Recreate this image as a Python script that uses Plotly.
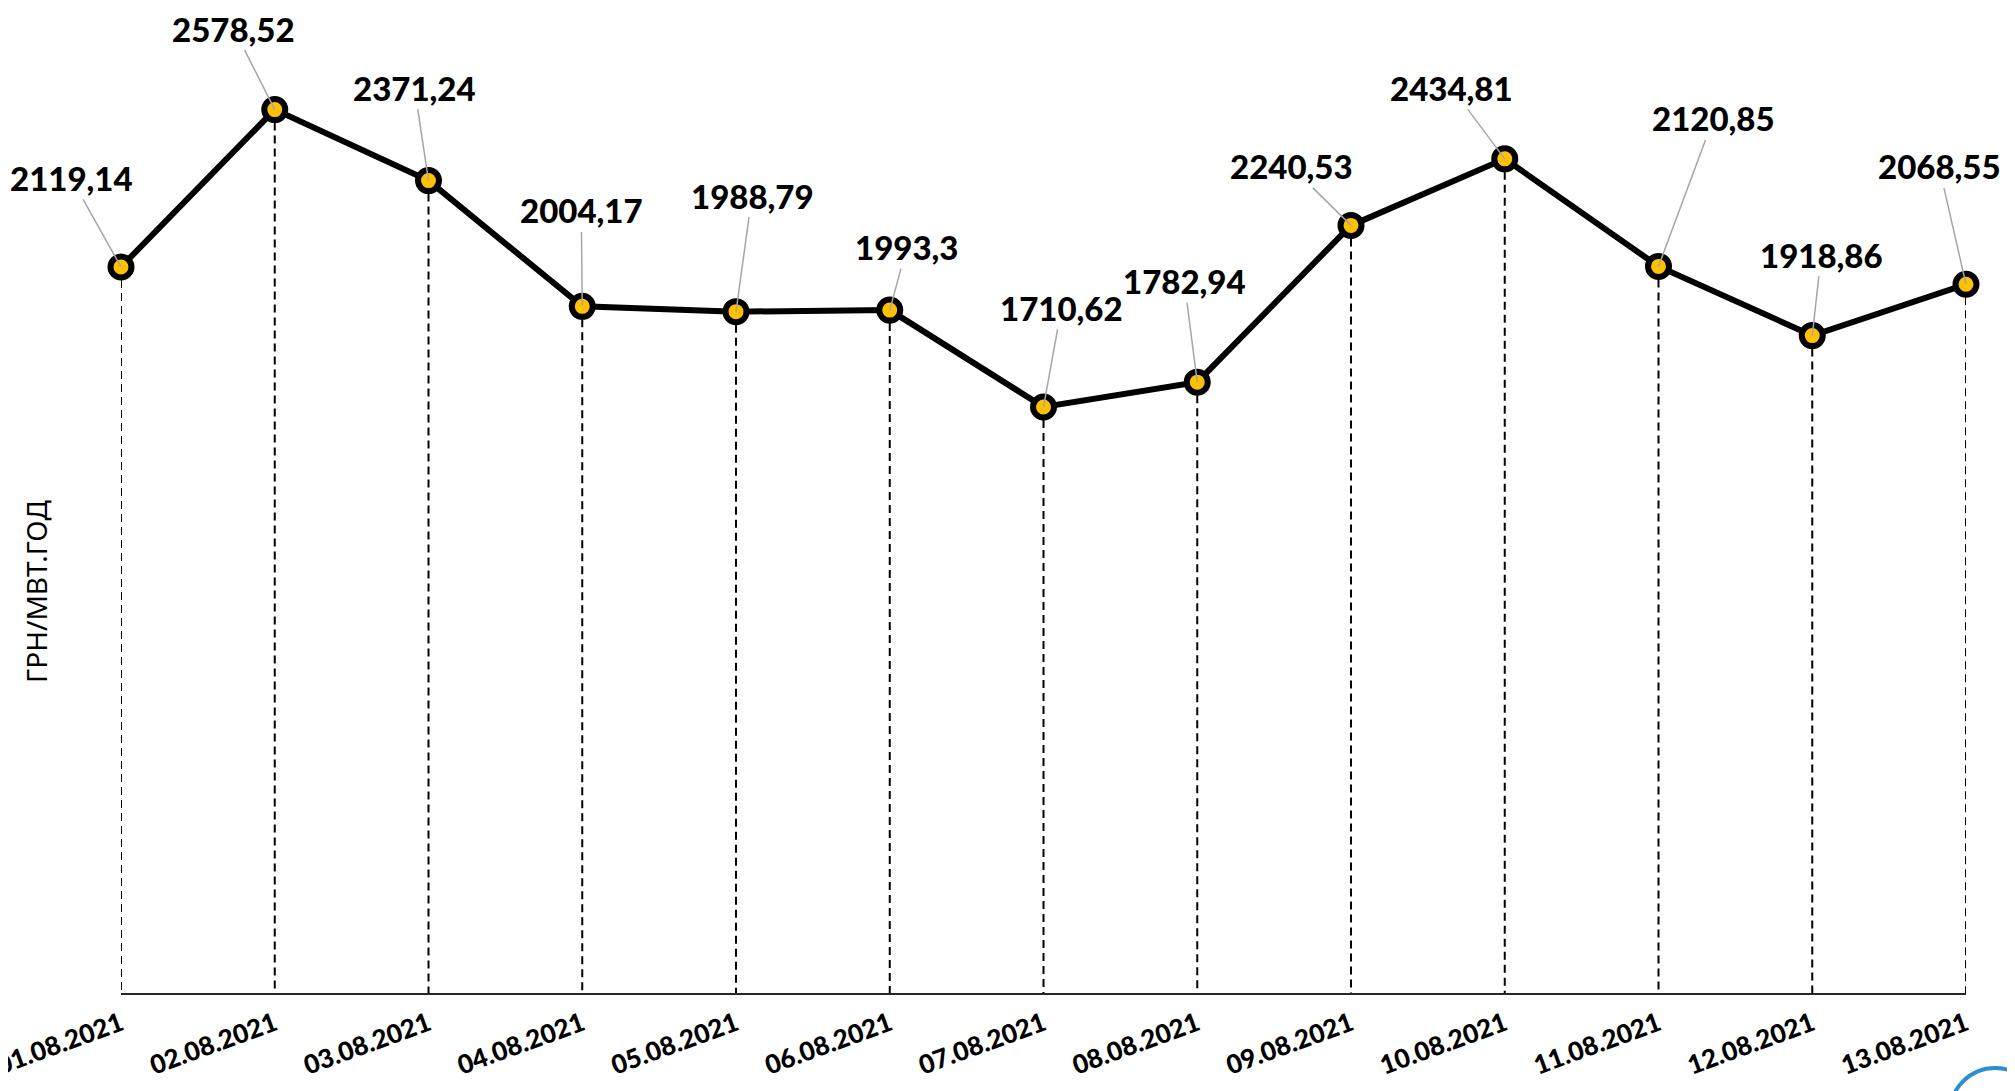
import plotly.graph_objects as go

# ---- data ----
dates = ["01.08.2021", "02.08.2021", "03.08.2021", "04.08.2021", "05.08.2021",
         "06.08.2021", "07.08.2021", "08.08.2021", "09.08.2021", "10.08.2021",
         "11.08.2021", "12.08.2021", "13.08.2021"]
prices = [2119.14, 2578.52, 2371.24, 2004.17, 1988.79, 1993.3, 1710.62,
          1782.94, 2240.53, 2434.81, 2120.85, 1918.86, 2068.55]
y_title = "ГРН/МВТ.ГОД"

# ---- label placement offsets (pixels, style only) ----
label_dx = [-50, -41, -14, -1, 16, 17, 18, -13, -60, -53, 55, 9, -27]
label_dy = [-89, -81, -93, -96, -116, -63, -99, -101, -59, -71, -148, -81, -118]

xs = list(range(len(dates)))

# dashed drop lines
drop_x, drop_y = [], []
for i, v in zip(xs, prices):
    drop_x += [i, i, None]
    drop_y += [v, 0, None]

OFF = 8  # page body margin
PL, PR, PT, PB = 121 - OFF, 49 + OFF, 0, 98 + OFF
W, H = 2015, 1091
pw, ph = W - PL - PR, H - PT - PB


def px(sx):
    return (sx - OFF - PL) / pw


def py(sy):
    return (H - PB - (sy - OFF)) / ph


fig = go.Figure()
fig.add_trace(go.Scatter(
    x=drop_x, y=drop_y, mode="lines",
    line=dict(color="black", width=2, dash="8px,5px"),
    hoverinfo="skip", showlegend=False, cliponaxis=False,
))
fig.add_trace(go.Scatter(
    x=xs, y=prices, mode="lines+markers",
    line=dict(color="black", width=6),
    marker=dict(size=21, color="#FFC000", line=dict(color="black", width=6)),
    showlegend=False, cliponaxis=False,
))

annotations = []
for i, v in enumerate(prices):
    annotations.append(dict(
        x=i, y=v, xref="x", yref="y",
        text=f"{v}".replace(".", ","),
        showarrow=True, arrowhead=0, arrowcolor="#A6A6A6", arrowwidth=1.5,
        standoff=0, startstandoff=0,
        ax=label_dx[i], ay=label_dy[i],
        font=dict(family="Lato, Liberation Sans, sans-serif", size=33, color="black", weight=900),
    ))
annotations.append(dict(
    x=px(36), y=py(592), xref="paper", yref="paper",
    xanchor="center", yanchor="middle", showarrow=False,
    text=y_title, textangle=-90,
    font=dict(family="Noto Sans, Liberation Sans, sans-serif", size=28, color="black"),
))

fig.update_layout(
    width=W, height=H,
    margin=dict(l=PL, r=PR, t=PT, b=PB, autoexpand=False),
    paper_bgcolor="white", plot_bgcolor="white",
    xaxis=dict(
        range=[0, len(dates) - 1], tickmode="array", tickvals=xs, ticktext=dates,
        tickangle=-20, showgrid=False, zeroline=False, automargin=False,
        showline=True, linecolor="#262626", linewidth=2, ticks="",
        ticklabelstandoff=4, ticklabeloverflow="allow",
        tickfont=dict(family="Lato, Liberation Sans, sans-serif", size=26, color="black", weight=900),
    ),
    yaxis=dict(range=[0, (H - PB) / 0.3426], visible=False, automargin=False),
    annotations=annotations,
    shapes=[dict(
        type="circle", xref="paper", yref="paper",
        x0=px(1950), x1=px(2040),
        y0=py(1158), y1=py(1068),
        line=dict(color="#2E8FD0", width=4),
    )],
)

fig.write_html("out.html")
